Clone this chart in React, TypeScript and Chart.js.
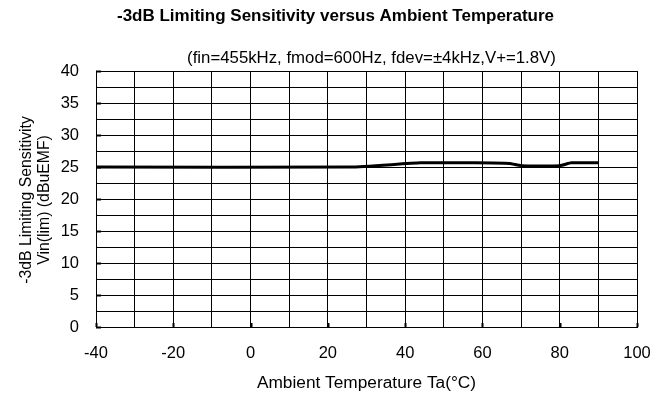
import React, { useEffect, useRef } from "react";
import { Chart, registerables } from "chart.js";

Chart.register(...registerables);

const temperatures = [-40, 26, 44, 58, 67, 70, 80, 83, 90];
const sensitivity = [25.0, 25.0, 25.65, 25.65, 25.55, 25.2, 25.2, 25.65, 25.65];

const xTickLabels = [-40, -20, 0, 20, 40, 60, 80, 100];
const yTickLabels = [0, 5, 10, 15, 20, 25, 30, 35, 40];

const TITLE = "-3dB Limiting Sensitivity versus Ambient Temperature";
const SUBTITLE = "(fin=455kHz, fmod=600Hz, fdev=\u00b14kHz,V+=1.8V)";
const X_TITLE = "Ambient Temperature Ta(\u00b0C)";
const Y_TITLE = ["-3dB Limiting Sensitivity", "Vin(lim) (dBuEMF)"];

const FONT = "'Liberation Sans', Arial, sans-serif";

const textPlugin = {
  id: "texts",
  afterDraw(chart: any) {
    const ctx = chart.ctx as CanvasRenderingContext2D;
    const area = chart.chartArea;
    ctx.save();
    ctx.fillStyle = "#000";
    ctx.textBaseline = "middle";
    ctx.textAlign = "center";
    ctx.font = `bold 17px ${FONT}`;
    ctx.fillText(TITLE, 335.5, 16);
    ctx.font = `16.8px ${FONT}`;
    ctx.fillText(SUBTITLE, 371.5, 58.5);
    ctx.font = `17.3px ${FONT}`;
    ctx.fillText(X_TITLE, (area.left + area.right) / 2, 383);
    const cy = (area.top + area.bottom) / 2 + 1;
    ctx.font = `15.8px ${FONT}`;
    ctx.translate(27, cy);
    ctx.rotate(-Math.PI / 2);
    ctx.fillText(Y_TITLE[0], 0, 0);
    ctx.fillText(Y_TITLE[1], 0, 18);
    ctx.restore();

    // small inward tick marks
    const xs = chart.scales.x;
    const ys = chart.scales.y;
    ctx.save();
    ctx.strokeStyle = "#000";
    ctx.lineWidth = 2;
    ctx.beginPath();
    yTickLabels.forEach((v) => {
      const y = Math.round(ys.getPixelForValue(v)) + 0.5;
      ctx.moveTo(area.left, y);
      ctx.lineTo(area.left + 5, y);
    });
    xTickLabels.forEach((v) => {
      const x = Math.round(xs.getPixelForValue(v)) + 0.5;
      ctx.moveTo(x, area.bottom);
      ctx.lineTo(x, area.bottom - 4);
    });
    ctx.stroke();
    ctx.restore();
  },
};

export default function App() {
  const ref = useRef<HTMLCanvasElement>(null);
  useEffect(() => {
    if (!ref.current) return;
    const chart = new Chart(ref.current, {
      type: "line",
      data: {
        datasets: [
          {
            data: temperatures.map((t, i) => ({ x: t, y: sensitivity[i] })),
            borderColor: "#000",
            borderWidth: 3,
            pointRadius: 0,
            tension: 0.15,
            fill: false,
          },
        ],
      },
      options: {
        animation: false,
        responsive: false,
        maintainAspectRatio: false,
        layout: { padding: { top: 71, right: 34, bottom: 0, left: 0 } },
        plugins: {
          legend: { display: false },
          tooltip: { enabled: false },
          title: { display: false },
        },
        scales: {
          x: {
            type: "linear",
            min: -40,
            max: 100,
            afterFit: (s: any) => {
              s.height = 70;
            },
            border: { display: true, color: "#000", width: 1 },
            grid: { color: "#000", lineWidth: 1, drawTicks: false },
            ticks: {
              stepSize: 10,
              padding: 17,
              color: "#000",
              font: { family: FONT, size: 16.5 },
              autoSkip: false,
              maxRotation: 0,
              callback: (v: any) => (xTickLabels.includes(Number(v)) ? String(v) : ""),
            },
          },
          y: {
            type: "linear",
            min: 0,
            max: 40,
            afterFit: (s: any) => {
              s.width = 96;
            },
            border: { display: true, color: "#000", width: 1 },
            grid: { color: "#000", lineWidth: 1, drawTicks: false },
            ticks: {
              stepSize: 2.5,
              padding: 17,
              color: "#000",
              font: { family: FONT, size: 16.5 },
              autoSkip: false,
              callback: (v: any) => (yTickLabels.includes(Number(v)) ? String(v) : ""),
            },
          },
        },
      },
      plugins: [textPlugin],
    });
    return () => chart.destroy();
  }, []);
  return (
    <div style={{ position: "absolute", left: 0, top: 0, width: 671, height: 397, background: "#fff" }}>
      <canvas ref={ref} width={671} height={397} style={{ width: 671, height: 397 }} />
    </div>
  );
}
